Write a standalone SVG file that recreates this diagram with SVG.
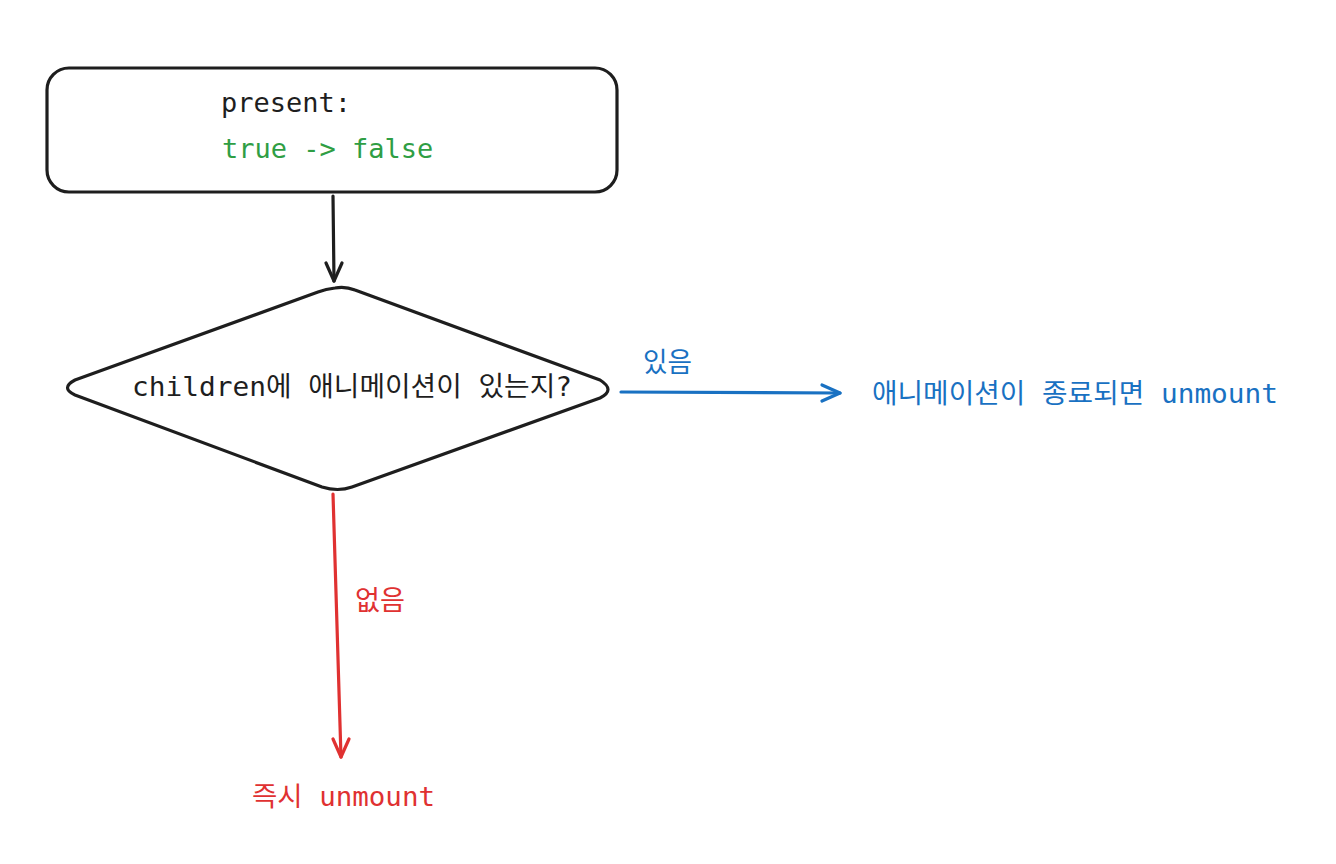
<svg xmlns="http://www.w3.org/2000/svg" width="1336" height="864" viewBox="0 0 1336 864">
<style>
text{font-family:"DejaVu Sans Mono","Noto Sans CJK KR",monospace;font-size:27px;font-weight:400}
.shape{fill:#fff;stroke:#1e1e1e;stroke-width:3.2;stroke-linejoin:round}
.conn{fill:none;stroke-width:3.2;stroke-linecap:round;stroke-linejoin:round}
.black{stroke:#1e1e1e}.blue{stroke:#1971c2}.red{stroke:#e03131}
.lbl{font-size:27px}
</style>
<rect width="1336" height="864" fill="#fff"/>
<g id="node-present">
<rect class="shape" x="47" y="68" width="570" height="124" rx="22"/>
<text x="221" y="112" fill="#1e1e1e">present:</text>
<text x="222" y="158" fill="#2f9e44">true -&gt; false</text>
</g>
<g id="node-decision">
<path class="shape" d="M335 288 Q345 286 355 290 L600 380 Q616 390 600 398 L352 487 Q338 492 322 487 L75 395 Q60 388 75 380 L318 292 Q326 289 335 288 Z"/>
<text x="132" y="396" fill="#1e1e1e" textLength="440" lengthAdjust="spacingAndGlyphs">children에 애니메이션이 있는지?</text>
</g>
<g id="node-animated">
<text x="872" y="403" fill="#1971c2" textLength="406" lengthAdjust="spacingAndGlyphs">애니메이션이 종료되면 unmount</text>
</g>
<g id="node-immediate">
<text x="252" y="806" fill="#e03131" textLength="183" lengthAdjust="spacingAndGlyphs">즉시 unmount</text>
</g>
<g id="connectors">
<path class="conn black" d="M333 196 L334 281"/>
<path class="conn black" d="M326 263 L334 281 L342 263"/>
<path class="conn blue" d="M621 392 L840 393"/>
<path class="conn blue" d="M822 385 L840 393 L822 401"/>
<text class="lbl" x="643" y="372" fill="#1971c2" textLength="49" lengthAdjust="spacingAndGlyphs">있음</text>
<path class="conn red" d="M333 494 L341 757"/>
<path class="conn red" d="M333 739 L341 757 L349 739"/>
<text class="lbl" x="355" y="610" fill="#e03131" textLength="50" lengthAdjust="spacingAndGlyphs">없음</text>
</g>
</svg>
